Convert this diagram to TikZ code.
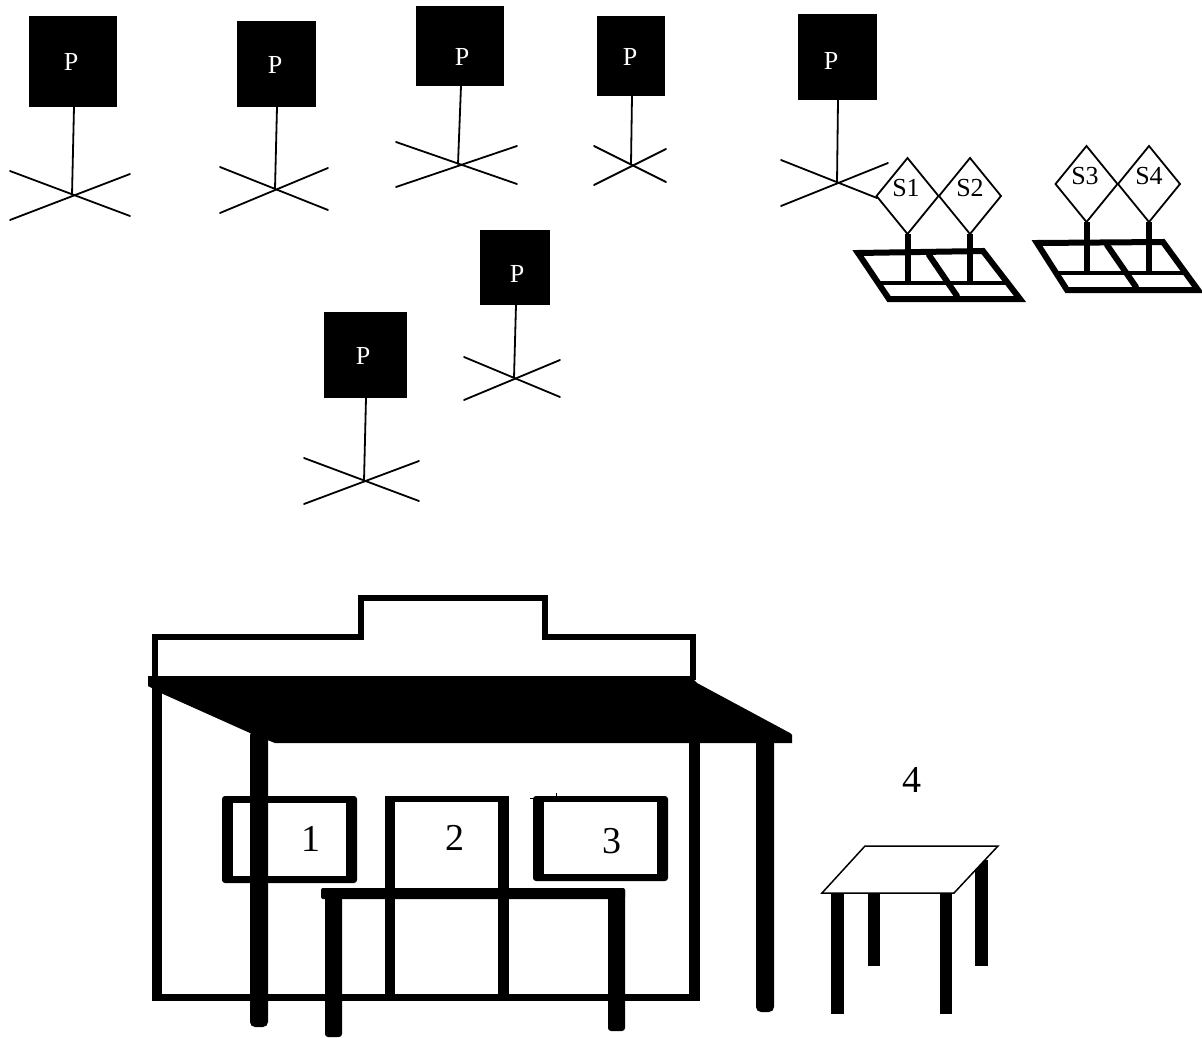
\documentclass[tikz,border=0pt]{standalone}
\usepackage{fontspec}
\setmainfont{Liberation Serif}
\usetikzlibrary{shapes.geometric}
\tikzset{
  person/.style={fill=black,draw=none,inner sep=0pt,outer sep=0pt},
  ptext/.style={text=white,font=\fontsize{26}{26}\selectfont,inner sep=0pt},
  stickline/.style={line width=1.8pt,line cap=round},
  sensor/.style={diamond,draw=black,line width=1.8pt,fill=white,aspect=0.82,inner sep=0pt,outer sep=0pt,minimum width=62pt,minimum height=76pt},
  stext/.style={font=\fontsize{26}{26}\selectfont,inner sep=0pt},
  numtext/.style={font=\fontsize{38}{38}\selectfont,inner sep=0pt},
  panelbar/.style={line width=6pt,line cap=round,line join=miter},
  panelthin/.style={line width=4.5pt},
  solid block/.style={fill=black,draw=none},
  windowhole/.style={fill=white,draw=none},
}
\begin{document}
\begin{tikzpicture}[x=1pt,y=-1pt]
\useasboundingbox (0,0) rectangle (1202,1038);
% stick figures: name/x-left/y-top/x-right/y-bottom/P x/P y/stem x/centre x/centre y/arm ends
\foreach \n/\xa/\ya/\xb/\yb/\px/\py/\sx/\cx/\cy/\ax/\ay/\bx/\by/\ccx/\ccy/\dx/\dy in {
  a/29/16/117/107/71/62/74/72/195/10/171/130/216/10/220/130/174,
  b/237/21/316/107/275/65/277/275/189/220/167/328/210/220/213/328/168,
  c/416/6/504/86/462/57/461/458/164/396/142/517/184/396/187/517/146,
  d/597/16/665/96/630/57/632/631/164/594/146/666/182/594/185/666/149,
  e/798/14/877/100/831/61/838/837/183/781/160/877/198/781/206/888/163,
  f/480/230/550/305/517/274/516/514/378/464/357/560/397/464/400/560/360,
  g/324/312/407/398/363/356/366/364/481/304/458/419/501/304/504/419/461}{
  \pgfmathsetmacro\figW{\xb-\xa}
  \pgfmathsetmacro\figH{\yb-\ya}
  \node[person,minimum width=\figW pt,minimum height=\figH pt] (p\n) at ({(\xa+\xb)/2},{(\ya+\yb)/2}) {};
  \node[ptext] (pt\n) at (\px,\py) {P};
  \coordinate (top\n) at (\sx,\yb);
  \coordinate (hub\n) at (\cx,\cy);
  \coordinate (a\n) at (\ax,\ay);
  \coordinate (b\n) at (\bx,\by);
  \coordinate (c\n) at (\ccx,\ccy);
  \coordinate (d\n) at (\dx,\dy);
  \draw[stickline] (top\n) -- (hub\n);
  \draw[stickline] (a\n) -- (b\n);
  \draw[stickline] (c\n) -- (d\n);
}
% solar panels
\draw[panelbar] (858,253) -- (983,251) -- (1020,299) -- (889,299) -- cycle;
\draw[panelthin] (879,283) -- (1008,283);
\draw[panelbar] (929,255) -- (957,296);
\draw[panelbar] (1037,243) -- (1163,242) -- (1198,290) -- (1067,290) -- cycle;
\draw[panelthin] (1057,273) -- (1186,273);
\draw[panelbar] (1107,245) -- (1136,287);
% sensors
\node[sensor] (s1) at (907.5,196) {};
\node[sensor] (s2) at (970,196) {};
\node[sensor] (s3) at (1086.5,184) {};
\node[sensor] (s4) at (1149,184) {};
\node[stext] (ts1) at (906,188) {S1};
\node[stext] (ts2) at (970,188) {S2};
\node[stext] (ts3) at (1085,176) {S3};
\node[stext] (ts4) at (1149,176) {S4};
\draw[line width=6pt] (s1.south) -- (907.5,281);
\draw[line width=6pt] (s2.south) -- (970,281);
\draw[line width=6pt] (s3.south) -- (1086.5,272);
\draw[line width=6pt] (s4.south) -- (1149,272);
% house upper outline
\draw[line width=6pt,line join=miter] (155,680) -- (155,636.5) -- (361,636.5) -- (361,597.5) -- (544.5,597.5) -- (544.5,636.5) -- (692.5,636.5) -- (692.5,680);
% roof
\fill[black] (148,676) -- (690,676) -- (697,683) -- (790,733) -- (792,735) -- (792,743) -- (275,743) -- (250,733) -- (163,694) -- (148,686) -- cycle;
% walls
\fill[solid block] (152,680) rectangle (162,1000);
\fill[solid block] (689,743) rectangle (700,1001);
\fill[solid block] (152,994) rectangle (700,1001);
% windows
\fill[solid block,rounded corners=3pt] (222,796) rectangle (357,883);
\fill[windowhole] (233,803) rectangle (346,876);
\fill[solid block,rounded corners=3pt] (533,796) rectangle (668,881);
\fill[windowhole] (544,802) rectangle (657,874);
\fill[solid block] (385,796) rectangle (509,1000);
\fill[windowhole] (395,802) rectangle (498,994);
\fill[solid block] (555.5,793) rectangle (557,797);
\fill[solid block] (530,798) rectangle (534,799);
% posts
\fill[solid block,rounded corners=5pt] (250,730) rectangle (268,1027);
\fill[solid block,rounded corners=5pt] (756,735) rectangle (774,1012);
\fill[solid block,rounded corners=2pt] (321,888) rectangle (625,899);
\fill[solid block,rounded corners=3pt] (325,888) rectangle (342,1037);
\fill[solid block,rounded corners=3pt] (608,888) rectangle (625,1031);
% table
\fill[solid block] (975,860) rectangle (988,966);
\fill[solid block] (831,894) rectangle (844,1014);
\fill[solid block] (868,894) rectangle (880,966);
\fill[solid block] (940,894) rectangle (952,1014);
\draw[line width=1.5pt,fill=white,line join=miter] (822,893) -- (865,846) -- (998,846) -- (954,893) -- cycle;
% numbers
\node[numtext] (n1) at (311,839) {1};
\node[numtext] (n2) at (455,838) {2};
\node[numtext] (n3) at (612,841) {3};
\node[numtext] (n4) at (912,780) {4};
\end{tikzpicture}
\end{document}
